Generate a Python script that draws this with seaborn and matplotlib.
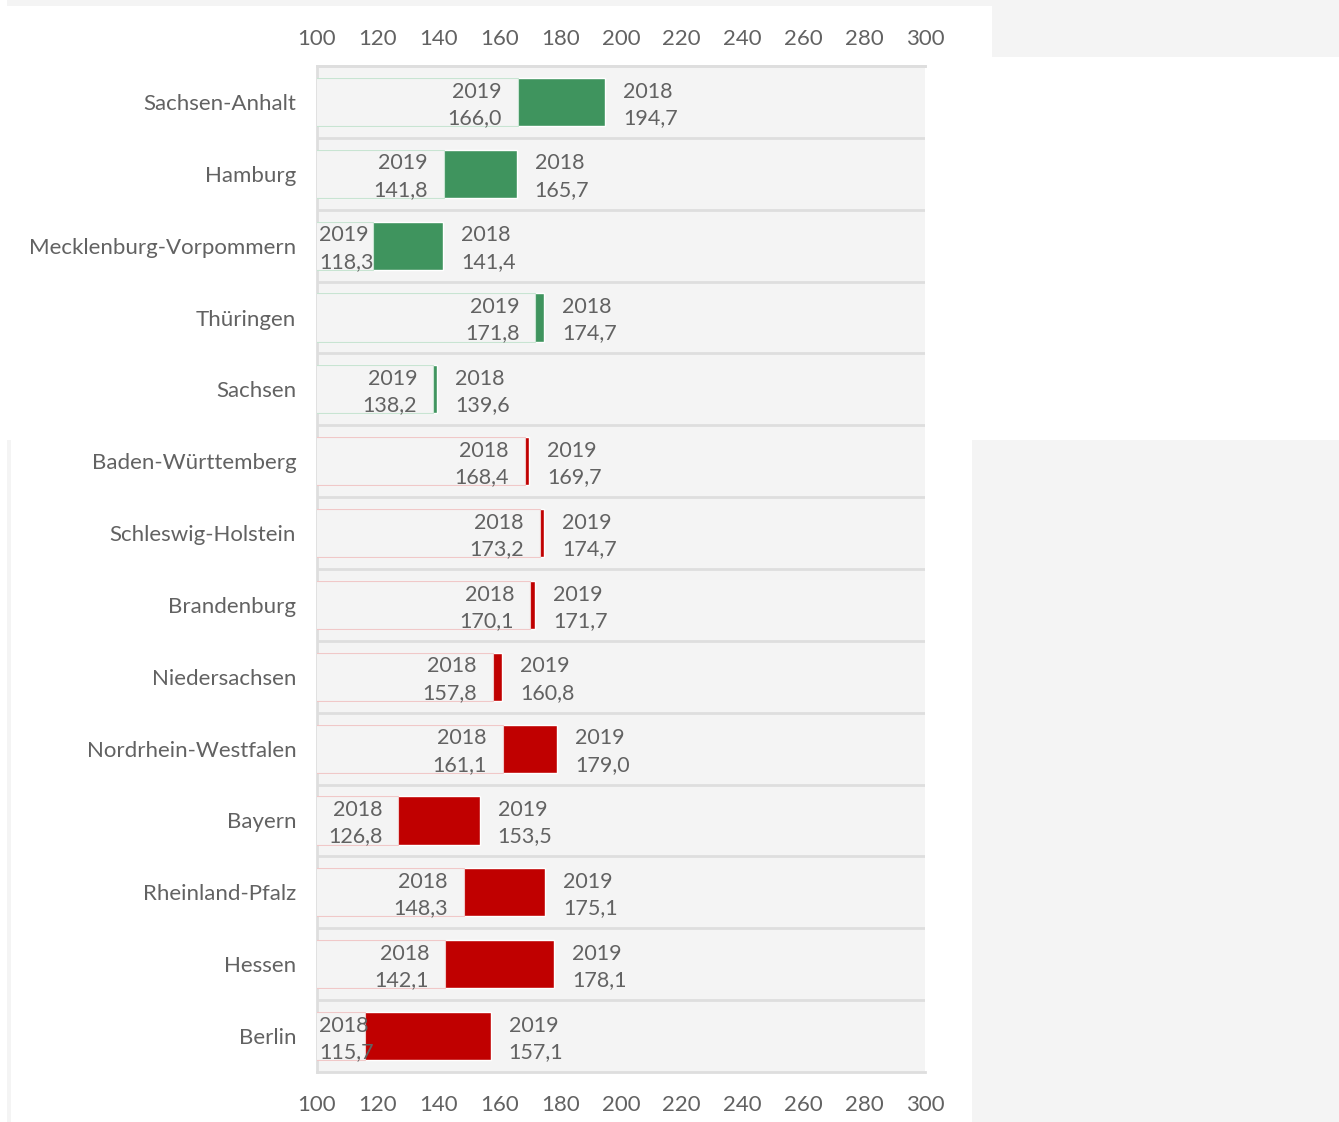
import numpy as np
import pandas as pd
import matplotlib.pyplot as plt
from matplotlib.patches import Rectangle
import seaborn as sns

sns.set_theme(style="white")
plt.rcParams['font.family'] = ['Lato', 'DejaVu Sans']

# values
states = ['Sachsen-Anhalt', 'Hamburg', 'Mecklenburg-Vorpommern', 'Thüringen', 'Sachsen',
          'Baden-Württemberg', 'Schleswig-Holstein', 'Brandenburg', 'Niedersachsen',
          'Nordrhein-Westfalen', 'Bayern', 'Rheinland-Pfalz', 'Hessen', 'Berlin']
val_2018 = [194.7, 165.7, 141.4, 174.7, 139.6, 168.4, 173.2, 170.1, 157.8,
            161.1, 126.8, 148.3, 142.1, 115.7]
val_2019 = [166.0, 141.8, 118.3, 171.8, 138.2, 169.7, 174.7, 171.7, 160.8,
            179.0, 153.5, 175.1, 178.1, 157.1]
x_ticks = [100, 120, 140, 160, 180, 200, 220, 240, 260, 280, 300]

GREEN = '#3f945e'
RED = '#c00000'
BG = '#f4f4f4'
TXT = '#626262'

df = pd.DataFrame({'state': states, 'y2018': val_2018, 'y2019': val_2019})
df['lo'] = df[['y2018', 'y2019']].min(axis=1)
df['hi'] = df[['y2018', 'y2019']].max(axis=1)
df['down'] = df['y2019'] < df['y2018']
bar_col = {s: (GREEN if d else RED) for s, d in zip(df['state'], df['down'])}
base_edge = {s: ('#c8e4d2' if d else '#f0c8c8') for s, d in zip(df['state'], df['down'])}

W, H = 1339, 1122
fig = plt.figure(figsize=(W / 100, H / 100), dpi=100)
fig.patch.set_facecolor('white')

def px_rect(x0, y0, x1, y1, color):
    fig.add_artist(Rectangle((x0 / W, 1 - y1 / H), (x1 - x0) / W, (y1 - y0) / H,
                             transform=fig.transFigure, facecolor=color,
                             edgecolor='none', zorder=-10))

# odd grey background blocks of the source screenshot
px_rect(7, 0, W, 6, BG)
px_rect(992, 0, W, 57, BG)
px_rect(972, 440, W, H, BG)
px_rect(7, 440, 11, H, BG)

ax = fig.add_axes([317 / W, 1 - 1072 / H, (925 - 317) / W, (1072 - 66) / H])
ax.set_facecolor(BG)

# full bar to the higher value, then mask up to the lower value
sns.barplot(data=df, y='state', x='hi', hue='state', palette=bar_col, orient='h',
            width=0.67, legend=False, ax=ax, saturation=1, zorder=2)
sns.barplot(data=df, y='state', x='lo', hue='state', palette={s: BG for s in states},
            orient='h', width=0.67, legend=False, ax=ax, saturation=1, zorder=3)
n = len(states)
for p in ax.patches[n:]:
    st = states[int(round(p.get_y() + p.get_height() / 2))]
    p.set_edgecolor(base_edge[st])
    p.set_linewidth(0.8)

ax.set_xlim(100, 300)
ax.set_ylim(n - 0.5, -0.5)

lab_kw = dict(textcoords='offset points', va='center', fontsize=15.5, color=TXT,
              zorder=5, linespacing=1.4)
for i, r in df.iterrows():
    lo_year = '2019' if r['down'] else '2018'
    hi_year = '2018' if r['down'] else '2019'
    lo_txt = f"{lo_year}\n{r['lo']:.1f}".replace('.', ',')
    hi_txt = f"{hi_year}\n{r['hi']:.1f}".replace('.', ',')
    # label sits left of the bar, but is kept inside the plot area
    if r['lo'] - 5 < 100 + 17:
        ax.annotate(lo_txt, (100, i), xytext=(1.5, -2), ha='left', **lab_kw)
    else:
        ax.annotate(lo_txt, (r['lo'], i), xytext=(-11.5, -2), ha='right', **lab_kw)
    ax.annotate(hi_txt, (r['hi'], i), xytext=(13, -2), ha='left', **lab_kw)

for k in range(n - 1):
    ax.axhline(k + 0.5, color='#dedede', lw=2, zorder=1)

ax.set_xticks(x_ticks)
ax.set_xlabel('')
ax.set_ylabel('')
ax.tick_params(axis='x', length=0, pad=16.5, labelsize=16, labelcolor=TXT)
ax.tick_params(axis='y', length=0, pad=15, labelsize=16, labelcolor=TXT)

top = ax.secondary_xaxis('top')
top.set_xticks(x_ticks)
top.tick_params(axis='x', length=0, pad=12, labelsize=16, labelcolor=TXT)
top.spines['top'].set_color('#dedede')
top.spines['top'].set_linewidth(2)

for side in ['left', 'top', 'bottom']:
    ax.spines[side].set_color('#dedede')
    ax.spines[side].set_linewidth(2)
ax.spines['right'].set_visible(False)

fig.savefig('out.png', dpi=100)
